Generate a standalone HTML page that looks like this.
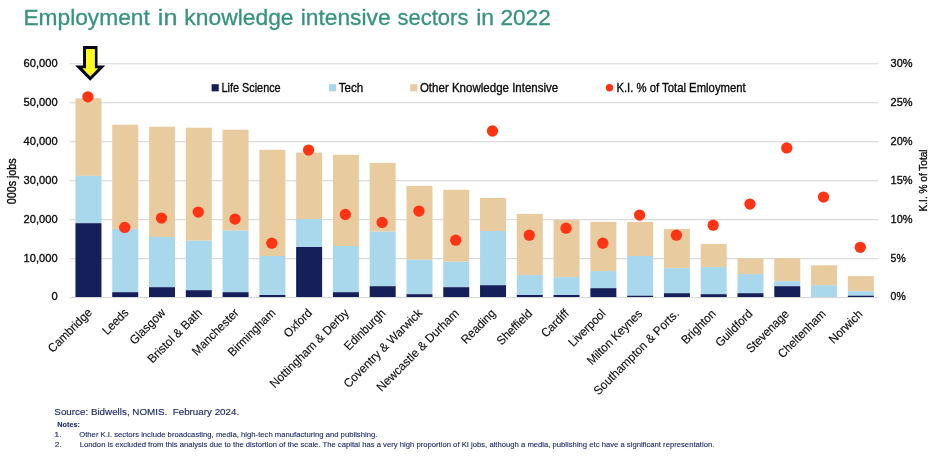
<!DOCTYPE html>
<html><head><meta charset="utf-8"><title>Employment in knowledge intensive sectors in 2022</title>
<style>html,body{margin:0;padding:0;background:#fff;}body{width:940px;height:462px;overflow:hidden;}svg{display:block;will-change:transform;filter:blur(0.35px);font-family:"Liberation Sans",sans-serif;}</style></head><body>
<svg width="940" height="462" viewBox="0 0 940 462">
<rect width="940" height="462" fill="#ffffff"/>
<rect x="69.7" y="297.00" width="808.5" height="1.2" fill="#dadada"/>
<rect x="69.7" y="258.02" width="808.5" height="1.2" fill="#dadada"/>
<rect x="69.7" y="219.04" width="808.5" height="1.2" fill="#dadada"/>
<rect x="69.7" y="180.06" width="808.5" height="1.2" fill="#dadada"/>
<rect x="69.7" y="141.08" width="808.5" height="1.2" fill="#dadada"/>
<rect x="69.7" y="102.10" width="808.5" height="1.2" fill="#dadada"/>
<rect x="69.7" y="63.12" width="808.5" height="1.2" fill="#dadada"/>
<rect x="75.45" y="98.30" width="26.0" height="77.60" fill="#e8cca0"/>
<rect x="75.45" y="175.90" width="26.0" height="47.30" fill="#a9d8ed"/>
<rect x="75.45" y="223.20" width="26.0" height="73.80" fill="#15205a"/>
<rect x="112.23" y="124.70" width="26.0" height="104.20" fill="#e8cca0"/>
<rect x="112.23" y="228.90" width="26.0" height="63.30" fill="#a9d8ed"/>
<rect x="112.23" y="292.20" width="26.0" height="4.80" fill="#15205a"/>
<rect x="149.01" y="126.70" width="26.0" height="110.30" fill="#e8cca0"/>
<rect x="149.01" y="237.00" width="26.0" height="50.20" fill="#a9d8ed"/>
<rect x="149.01" y="287.20" width="26.0" height="9.80" fill="#15205a"/>
<rect x="185.79" y="127.70" width="26.0" height="113.00" fill="#e8cca0"/>
<rect x="185.79" y="240.70" width="26.0" height="49.50" fill="#a9d8ed"/>
<rect x="185.79" y="290.20" width="26.0" height="6.80" fill="#15205a"/>
<rect x="222.57" y="129.70" width="26.0" height="101.00" fill="#e8cca0"/>
<rect x="222.57" y="230.70" width="26.0" height="61.50" fill="#a9d8ed"/>
<rect x="222.57" y="292.20" width="26.0" height="4.80" fill="#15205a"/>
<rect x="259.35" y="149.80" width="26.0" height="106.20" fill="#e8cca0"/>
<rect x="259.35" y="256.00" width="26.0" height="39.00" fill="#a9d8ed"/>
<rect x="259.35" y="295.00" width="26.0" height="2.00" fill="#15205a"/>
<rect x="296.13" y="152.60" width="26.0" height="66.50" fill="#e8cca0"/>
<rect x="296.13" y="219.10" width="26.0" height="27.90" fill="#a9d8ed"/>
<rect x="296.13" y="247.00" width="26.0" height="50.00" fill="#15205a"/>
<rect x="332.91" y="154.80" width="26.0" height="91.20" fill="#e8cca0"/>
<rect x="332.91" y="246.00" width="26.0" height="46.20" fill="#a9d8ed"/>
<rect x="332.91" y="292.20" width="26.0" height="4.80" fill="#15205a"/>
<rect x="369.69" y="162.90" width="26.0" height="68.80" fill="#e8cca0"/>
<rect x="369.69" y="231.70" width="26.0" height="54.50" fill="#a9d8ed"/>
<rect x="369.69" y="286.20" width="26.0" height="10.80" fill="#15205a"/>
<rect x="406.47" y="185.90" width="26.0" height="73.90" fill="#e8cca0"/>
<rect x="406.47" y="259.80" width="26.0" height="34.40" fill="#a9d8ed"/>
<rect x="406.47" y="294.20" width="26.0" height="2.80" fill="#15205a"/>
<rect x="443.25" y="189.80" width="26.0" height="72.00" fill="#e8cca0"/>
<rect x="443.25" y="261.80" width="26.0" height="25.40" fill="#a9d8ed"/>
<rect x="443.25" y="287.20" width="26.0" height="9.80" fill="#15205a"/>
<rect x="480.03" y="198.00" width="26.0" height="33.00" fill="#e8cca0"/>
<rect x="480.03" y="231.00" width="26.0" height="54.20" fill="#a9d8ed"/>
<rect x="480.03" y="285.20" width="26.0" height="11.80" fill="#15205a"/>
<rect x="516.81" y="213.90" width="26.0" height="61.20" fill="#e8cca0"/>
<rect x="516.81" y="275.10" width="26.0" height="19.90" fill="#a9d8ed"/>
<rect x="516.81" y="295.00" width="26.0" height="2.00" fill="#15205a"/>
<rect x="553.59" y="219.90" width="26.0" height="57.20" fill="#e8cca0"/>
<rect x="553.59" y="277.10" width="26.0" height="17.90" fill="#a9d8ed"/>
<rect x="553.59" y="295.00" width="26.0" height="2.00" fill="#15205a"/>
<rect x="590.37" y="221.90" width="26.0" height="49.20" fill="#e8cca0"/>
<rect x="590.37" y="271.10" width="26.0" height="17.10" fill="#a9d8ed"/>
<rect x="590.37" y="288.20" width="26.0" height="8.80" fill="#15205a"/>
<rect x="627.15" y="221.90" width="26.0" height="34.10" fill="#e8cca0"/>
<rect x="627.15" y="256.00" width="26.0" height="39.70" fill="#a9d8ed"/>
<rect x="627.15" y="295.70" width="26.0" height="1.30" fill="#15205a"/>
<rect x="663.93" y="228.90" width="26.0" height="39.20" fill="#e8cca0"/>
<rect x="663.93" y="268.10" width="26.0" height="25.10" fill="#a9d8ed"/>
<rect x="663.93" y="293.20" width="26.0" height="3.80" fill="#15205a"/>
<rect x="700.71" y="244.00" width="26.0" height="23.10" fill="#e8cca0"/>
<rect x="700.71" y="267.10" width="26.0" height="27.10" fill="#a9d8ed"/>
<rect x="700.71" y="294.20" width="26.0" height="2.80" fill="#15205a"/>
<rect x="737.49" y="258.30" width="26.0" height="15.80" fill="#e8cca0"/>
<rect x="737.49" y="274.10" width="26.0" height="19.10" fill="#a9d8ed"/>
<rect x="737.49" y="293.20" width="26.0" height="3.80" fill="#15205a"/>
<rect x="774.27" y="258.30" width="26.0" height="22.90" fill="#e8cca0"/>
<rect x="774.27" y="281.20" width="26.0" height="5.00" fill="#a9d8ed"/>
<rect x="774.27" y="286.20" width="26.0" height="10.80" fill="#15205a"/>
<rect x="811.05" y="265.30" width="26.0" height="19.90" fill="#e8cca0"/>
<rect x="811.05" y="285.20" width="26.0" height="11.80" fill="#a9d8ed"/>
<rect x="847.83" y="276.10" width="26.0" height="15.10" fill="#e8cca0"/>
<rect x="847.83" y="291.20" width="26.0" height="4.50" fill="#a9d8ed"/>
<rect x="847.83" y="295.70" width="26.0" height="1.30" fill="#15205a"/>
<circle cx="87.90" cy="96.80" r="5.65" fill="#ff3414"/>
<circle cx="124.68" cy="227.40" r="5.65" fill="#ff3414"/>
<circle cx="161.46" cy="218.10" r="5.65" fill="#ff3414"/>
<circle cx="198.24" cy="212.10" r="5.65" fill="#ff3414"/>
<circle cx="235.02" cy="219.10" r="5.65" fill="#ff3414"/>
<circle cx="271.80" cy="243.20" r="5.65" fill="#ff3414"/>
<circle cx="308.58" cy="150.10" r="5.65" fill="#ff3414"/>
<circle cx="345.36" cy="214.40" r="5.65" fill="#ff3414"/>
<circle cx="382.14" cy="222.40" r="5.65" fill="#ff3414"/>
<circle cx="418.92" cy="211.10" r="5.65" fill="#ff3414"/>
<circle cx="455.70" cy="240.20" r="5.65" fill="#ff3414"/>
<circle cx="492.48" cy="131.00" r="5.65" fill="#ff3414"/>
<circle cx="529.26" cy="235.20" r="5.65" fill="#ff3414"/>
<circle cx="566.04" cy="228.20" r="5.65" fill="#ff3414"/>
<circle cx="602.82" cy="243.20" r="5.65" fill="#ff3414"/>
<circle cx="639.60" cy="215.10" r="5.65" fill="#ff3414"/>
<circle cx="676.38" cy="235.20" r="5.65" fill="#ff3414"/>
<circle cx="713.16" cy="225.20" r="5.65" fill="#ff3414"/>
<circle cx="749.94" cy="204.10" r="5.65" fill="#ff3414"/>
<circle cx="786.72" cy="147.90" r="5.65" fill="#ff3414"/>
<circle cx="823.50" cy="197.10" r="5.65" fill="#ff3414"/>
<circle cx="860.28" cy="247.30" r="5.65" fill="#ff3414"/>
<text transform="translate(57.60,300.00) scale(0.95,1)" font-size="11.7" fill="#0d0d0d" stroke="#0d0d0d" stroke-width="0.35" text-anchor="end">0</text>
<text transform="translate(57.60,261.82) scale(0.95,1)" font-size="11.7" fill="#0d0d0d" stroke="#0d0d0d" stroke-width="0.35" text-anchor="end">10,000</text>
<text transform="translate(57.60,222.84) scale(0.95,1)" font-size="11.7" fill="#0d0d0d" stroke="#0d0d0d" stroke-width="0.35" text-anchor="end">20,000</text>
<text transform="translate(57.60,183.86) scale(0.95,1)" font-size="11.7" fill="#0d0d0d" stroke="#0d0d0d" stroke-width="0.35" text-anchor="end">30,000</text>
<text transform="translate(57.60,144.88) scale(0.95,1)" font-size="11.7" fill="#0d0d0d" stroke="#0d0d0d" stroke-width="0.35" text-anchor="end">40,000</text>
<text transform="translate(57.60,105.90) scale(0.95,1)" font-size="11.7" fill="#0d0d0d" stroke="#0d0d0d" stroke-width="0.35" text-anchor="end">50,000</text>
<text transform="translate(57.60,66.92) scale(0.95,1)" font-size="11.7" fill="#0d0d0d" stroke="#0d0d0d" stroke-width="0.35" text-anchor="end">60,000</text>
<text transform="translate(890.60,300.00) scale(0.89,1)" font-size="11.7" fill="#0d0d0d" stroke="#0d0d0d" stroke-width="0.35" text-anchor="start">0%</text>
<text transform="translate(890.60,261.82) scale(0.89,1)" font-size="11.7" fill="#0d0d0d" stroke="#0d0d0d" stroke-width="0.35" text-anchor="start">5%</text>
<text transform="translate(890.60,222.84) scale(0.94,1)" font-size="11.7" fill="#0d0d0d" stroke="#0d0d0d" stroke-width="0.35" text-anchor="start">10%</text>
<text transform="translate(890.60,183.86) scale(0.94,1)" font-size="11.7" fill="#0d0d0d" stroke="#0d0d0d" stroke-width="0.35" text-anchor="start">15%</text>
<text transform="translate(890.60,144.88) scale(0.94,1)" font-size="11.7" fill="#0d0d0d" stroke="#0d0d0d" stroke-width="0.35" text-anchor="start">20%</text>
<text transform="translate(890.60,105.90) scale(0.94,1)" font-size="11.7" fill="#0d0d0d" stroke="#0d0d0d" stroke-width="0.35" text-anchor="start">25%</text>
<text transform="translate(890.60,66.92) scale(0.94,1)" font-size="11.7" fill="#0d0d0d" stroke="#0d0d0d" stroke-width="0.35" text-anchor="start">30%</text>
<text transform="translate(15.90,181.30) rotate(-90)" font-size="12.2" fill="#0d0d0d" stroke="#0d0d0d" stroke-width="0.35" text-anchor="middle" textLength="46" lengthAdjust="spacingAndGlyphs">000s jobs</text>
<text transform="translate(927.20,180.40) rotate(-90)" font-size="11.6" fill="#0d0d0d" stroke="#0d0d0d" stroke-width="0.35" text-anchor="middle" textLength="62" lengthAdjust="spacingAndGlyphs">K.I. % of Total</text>
<text transform="translate(92.70,313.30) rotate(-45) scale(0.945,1)" font-size="12.2" fill="#0d0d0d" stroke="#0d0d0d" stroke-width="0.12" text-anchor="end">Cambridge</text>
<text transform="translate(129.40,313.37) rotate(-45) scale(0.945,1)" font-size="12.2" fill="#0d0d0d" stroke="#0d0d0d" stroke-width="0.12" text-anchor="end">Leeds</text>
<text transform="translate(166.09,313.44) rotate(-45) scale(0.945,1)" font-size="12.2" fill="#0d0d0d" stroke="#0d0d0d" stroke-width="0.12" text-anchor="end">Glasgow</text>
<text transform="translate(202.79,313.51) rotate(-45) scale(0.965,1)" font-size="12.2" fill="#0d0d0d" stroke="#0d0d0d" stroke-width="0.12" text-anchor="end">Bristol &amp; Bath</text>
<text transform="translate(239.48,313.58) rotate(-45) scale(0.945,1)" font-size="12.2" fill="#0d0d0d" stroke="#0d0d0d" stroke-width="0.12" text-anchor="end">Manchester</text>
<text transform="translate(276.18,313.65) rotate(-45) scale(0.945,1)" font-size="12.2" fill="#0d0d0d" stroke="#0d0d0d" stroke-width="0.12" text-anchor="end">Birmingham</text>
<text transform="translate(312.87,313.72) rotate(-45) scale(0.945,1)" font-size="12.2" fill="#0d0d0d" stroke="#0d0d0d" stroke-width="0.12" text-anchor="end">Oxford</text>
<text transform="translate(349.56,313.79) rotate(-45) scale(0.965,1)" font-size="12.2" fill="#0d0d0d" stroke="#0d0d0d" stroke-width="0.12" text-anchor="end">Nottingham &amp; Derby</text>
<text transform="translate(386.26,313.86) rotate(-45) scale(0.945,1)" font-size="12.2" fill="#0d0d0d" stroke="#0d0d0d" stroke-width="0.12" text-anchor="end">Edinburgh</text>
<text transform="translate(422.95,313.93) rotate(-45) scale(0.965,1)" font-size="12.2" fill="#0d0d0d" stroke="#0d0d0d" stroke-width="0.12" text-anchor="end">Coventry &amp; Warwick</text>
<text transform="translate(459.65,314.00) rotate(-45) scale(0.965,1)" font-size="12.2" fill="#0d0d0d" stroke="#0d0d0d" stroke-width="0.12" text-anchor="end">Newcastle &amp; Durham</text>
<text transform="translate(496.34,314.07) rotate(-45) scale(0.945,1)" font-size="12.2" fill="#0d0d0d" stroke="#0d0d0d" stroke-width="0.12" text-anchor="end">Reading</text>
<text transform="translate(533.04,314.14) rotate(-45) scale(0.945,1)" font-size="12.2" fill="#0d0d0d" stroke="#0d0d0d" stroke-width="0.12" text-anchor="end">Sheffield</text>
<text transform="translate(569.73,314.21) rotate(-45) scale(0.945,1)" font-size="12.2" fill="#0d0d0d" stroke="#0d0d0d" stroke-width="0.12" text-anchor="end">Cardiff</text>
<text transform="translate(606.43,314.28) rotate(-45) scale(0.945,1)" font-size="12.2" fill="#0d0d0d" stroke="#0d0d0d" stroke-width="0.12" text-anchor="end">Liverpool</text>
<text transform="translate(643.12,314.35) rotate(-45) scale(0.945,1)" font-size="12.2" fill="#0d0d0d" stroke="#0d0d0d" stroke-width="0.12" text-anchor="end">Milton Keynes</text>
<text transform="translate(679.82,314.42) rotate(-45) scale(0.965,1)" font-size="12.2" fill="#0d0d0d" stroke="#0d0d0d" stroke-width="0.12" text-anchor="end">Southampton &amp; Ports.</text>
<text transform="translate(716.51,314.49) rotate(-45) scale(0.945,1)" font-size="12.2" fill="#0d0d0d" stroke="#0d0d0d" stroke-width="0.12" text-anchor="end">Brighton</text>
<text transform="translate(753.21,314.56) rotate(-45) scale(0.945,1)" font-size="12.2" fill="#0d0d0d" stroke="#0d0d0d" stroke-width="0.12" text-anchor="end">Guildford</text>
<text transform="translate(789.90,314.63) rotate(-45) scale(0.945,1)" font-size="12.2" fill="#0d0d0d" stroke="#0d0d0d" stroke-width="0.12" text-anchor="end">Stevenage</text>
<text transform="translate(826.60,314.70) rotate(-45) scale(0.945,1)" font-size="12.2" fill="#0d0d0d" stroke="#0d0d0d" stroke-width="0.12" text-anchor="end">Cheltenham</text>
<text transform="translate(863.29,314.77) rotate(-45) scale(0.945,1)" font-size="12.2" fill="#0d0d0d" stroke="#0d0d0d" stroke-width="0.12" text-anchor="end">Norwich</text>
<rect x="211.6" y="84.2" width="7.15" height="7.15" fill="#15205a"/>
<rect x="328.95" y="84.2" width="7.15" height="7.15" fill="#a9d8ed"/>
<rect x="410.2" y="84.2" width="7.15" height="7.15" fill="#e8cca0"/>
<circle cx="609.5" cy="87.8" r="3.7" fill="#ff3414"/>
<polygon points="83.05,46 97.5,46 97.5,65.4 105.3,65.4 90.2,80.7 75.1,65.4 83.05,65.4" fill="#06061f"/>
<polygon points="86.0,49 94.9,49 94.9,68.3 98.3,68.3 90.3,76.4 82.3,68.3 86.0,68.3" fill="#fdf91c"/>
<text x="23.4" y="24.9" font-size="22.8" fill="#35937f" stroke="#35937f" stroke-width="0.3" textLength="126.36" lengthAdjust="spacingAndGlyphs" xml:space="preserve" style="white-space:pre">Employment</text>
<text x="157.87" y="24.9" font-size="22.8" fill="#35937f" stroke="#35937f" stroke-width="0.3" textLength="19.54" lengthAdjust="spacingAndGlyphs" xml:space="preserve" style="white-space:pre">in</text>
<text x="184.33" y="24.9" font-size="22.8" fill="#35937f" stroke="#35937f" stroke-width="0.3" textLength="109.25" lengthAdjust="spacingAndGlyphs" xml:space="preserve" style="white-space:pre">knowledge</text>
<text x="300.66" y="24.9" font-size="22.8" fill="#35937f" stroke="#35937f" stroke-width="0.3" textLength="90.01" lengthAdjust="spacingAndGlyphs" xml:space="preserve" style="white-space:pre">intensive</text>
<text x="397.62" y="24.9" font-size="22.8" fill="#35937f" stroke="#35937f" stroke-width="0.3" textLength="70.75" lengthAdjust="spacingAndGlyphs" xml:space="preserve" style="white-space:pre">sectors</text>
<text x="476.16" y="24.9" font-size="22.8" fill="#35937f" stroke="#35937f" stroke-width="0.3" textLength="17.91" lengthAdjust="spacingAndGlyphs" xml:space="preserve" style="white-space:pre">in</text>
<text x="500.38" y="24.9" font-size="22.8" fill="#35937f" stroke="#35937f" stroke-width="0.3" textLength="50.36" lengthAdjust="spacingAndGlyphs" xml:space="preserve" style="white-space:pre">2022</text>
<text x="221.5" y="91.85" font-size="12.2" fill="#0d0d0d" stroke="#0d0d0d" stroke-width="0.35" textLength="59.14" lengthAdjust="spacingAndGlyphs" xml:space="preserve" style="white-space:pre">Life Science</text>
<text x="338.72" y="91.85" font-size="12.2" fill="#0d0d0d" stroke="#0d0d0d" stroke-width="0.35" textLength="24.57" lengthAdjust="spacingAndGlyphs" xml:space="preserve" style="white-space:pre">Tech</text>
<text x="419.9" y="91.85" font-size="12.2" fill="#0d0d0d" stroke="#0d0d0d" stroke-width="0.35" textLength="138.39" lengthAdjust="spacingAndGlyphs" xml:space="preserve" style="white-space:pre">Other Knowledge Intensive</text>
<text x="616.44" y="91.85" font-size="12.2" fill="#0d0d0d" stroke="#0d0d0d" stroke-width="0.35" textLength="129.23" lengthAdjust="spacingAndGlyphs" xml:space="preserve" style="white-space:pre">K.I. % of Total Emloyment</text>
<text x="54.36" y="414.8" font-size="9.7" fill="#1f2c6b" stroke="#1f2c6b" stroke-width="0.15" textLength="184.87" lengthAdjust="spacingAndGlyphs" xml:space="preserve" style="white-space:pre">Source: Bidwells, NOMIS.  February 2024.</text>
<text x="57.37" y="426.8" font-size="7.6" font-weight="bold" fill="#1f2c6b" stroke="#1f2c6b" stroke-width="0.1" textLength="22.64" lengthAdjust="spacingAndGlyphs" xml:space="preserve" style="white-space:pre">Notes:</text>
<text x="54.27" y="437.0" font-size="7.6" fill="#1f2c6b" stroke="#1f2c6b" stroke-width="0.12" textLength="7.44" lengthAdjust="spacingAndGlyphs" xml:space="preserve" style="white-space:pre">1.</text>
<text x="79.22" y="437.0" font-size="7.6" fill="#1f2c6b" stroke="#1f2c6b" stroke-width="0.12" textLength="298.13" lengthAdjust="spacingAndGlyphs" xml:space="preserve" style="white-space:pre">Other K.I. sectors include broadcasting, media, high-tech manufacturing and publishing.</text>
<text x="54.81" y="447.0" font-size="7.6" fill="#1f2c6b" stroke="#1f2c6b" stroke-width="0.12" textLength="6.88" lengthAdjust="spacingAndGlyphs" xml:space="preserve" style="white-space:pre">2.</text>
<text x="79.79" y="447.0" font-size="7.6" fill="#1f2c6b" stroke="#1f2c6b" stroke-width="0.12" textLength="634.56" lengthAdjust="spacingAndGlyphs" xml:space="preserve" style="white-space:pre">London is excluded from this analysis due to the distortion of the scale. The capital has a very high proportion of KI jobs, although a media, publishing etc have a significant representation.</text>
</svg></body></html>
